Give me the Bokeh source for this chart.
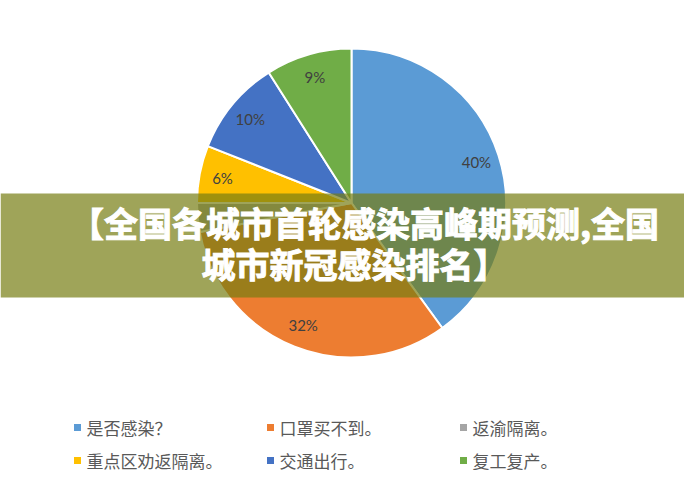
import numpy as np
from bokeh.plotting import figure
from bokeh.models import Range1d, BoxAnnotation, Label, ColumnDataSource
from bokeh.core.properties import value
from bokeh.embed import file_html
from bokeh.resources import INLINE

# ---- data ----
categories = ["是否感染？", "口罩买不到。", "返渝隔离。", "重点区劝返隔离。", "交通出行。", "复工复产。"]
shares = [40, 32, 3, 6, 10, 9]
colors = ["#5B9BD5", "#ED7D31", "#A5A5A5", "#FFC000", "#4472C4", "#70AD47"]
show_label = [True, True, False, True, True, True]
title_lines = ["【全国各城市首轮感染高峰期预测,全国", "城市新冠感染排名】"]

W, H = 684, 474
p = figure(width=W, height=H, output_backend="svg", toolbar_location=None,
           x_range=Range1d(0, W), y_range=Range1d(490 - H, 490),
           min_border=0, background_fill_color="white", border_fill_color="white")
p.axis.visible = False
p.grid.visible = False
p.outline_line_color = None

def Y(y_ref):
    return 490 - y_ref

cx, cy, r = 351, Y(202.5), 154.5
vals = np.array(shares, dtype=float)
frac = vals / vals.sum()
cum = np.concatenate([[0], np.cumsum(frac)])
start = np.pi / 2 - 2 * np.pi * cum[:-1]
end = np.pi / 2 - 2 * np.pi * cum[1:]
src = ColumnDataSource(dict(start=start, end=end, color=colors, cat=categories))
p.wedge(x=cx, y=cy, radius=r, start_angle="start", end_angle="end", direction="clock",
        fill_color="color", line_color="white", line_width=2, source=src)

mid = (start + end) / 2
lx, ly, lt = [], [], []
for i, s in enumerate(shares):
    if show_label[i]:
        lx.append(cx + 0.85 * r * np.cos(mid[i]))
        ly.append(cy + 0.85 * r * np.sin(mid[i]))
        lt.append(f"{s}%")
p.text(x=lx, y=ly, text=lt, text_align="center", text_baseline="middle",
       text_font=value("Lato"), text_font_size="15px", text_color="#404040")

# legend (manual grid, 3 columns)
sx, sy, tx = [], [], []
for i in range(len(categories)):
    col, row = i % 3, i // 3
    sx.append(77 + 193 * col)
    sy.append(Y(427 + 33 * row))
    tx.append(86 + 193 * col)
p.scatter(x=sx, y=sy, marker="square", size=7, fill_color=colors, line_color=None)
p.text(x=tx, y=sy, text=categories, text_align="left", text_baseline="middle",
       text_font=value("Noto Sans CJK SC"), text_font_size="17px", text_color="#595959")

# banner overlay
p.add_layout(BoxAnnotation(bottom=Y(297), top=Y(193), fill_color="#767D12",
                           fill_alpha=0.7, line_color=None))
title_x = [364, 354]
for k, line in enumerate(title_lines):
    p.add_layout(Label(x=title_x[k], y=Y(222 + 41 * k), text=line, text_align="center",
                       text_baseline="middle", text_font="Noto Sans CJK SC",
                       text_font_style="bold", text_font_size="34px", text_color="white",
                       text_outline_color="white"))

open("out.html", "w").write(file_html(p, INLINE))
